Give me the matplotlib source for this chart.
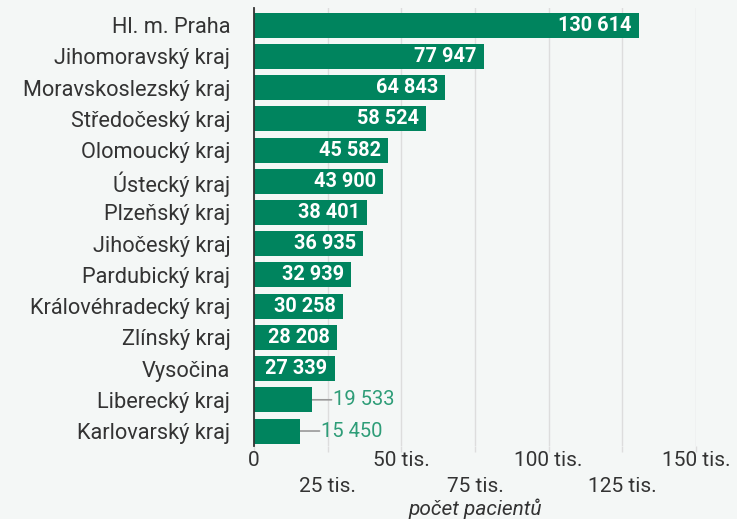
import matplotlib
matplotlib.use("Agg")
import matplotlib.pyplot as plt
from matplotlib.transforms import blended_transform_factory, offset_copy

plt.rcParams['font.family'] = ['Roboto', 'DejaVu Sans']

regions = ["Hl. m. Praha", "Jihomoravský kraj", "Moravskoslezský kraj", "Středočeský kraj",
           "Olomoucký kraj", "Ústecký kraj", "Plzeňský kraj", "Jihočeský kraj",
           "Pardubický kraj", "Královéhradecký kraj", "Zlínský kraj", "Vysočina",
           "Liberecký kraj", "Karlovarský kraj"]
patients = [130614, 77947, 64843, 58524, 45582, 43900, 38401, 36935,
            32939, 30258, 28208, 27339, 19533, 15450]
tick_values = [0, 25000, 50000, 75000, 100000, 125000, 150000]
tick_labels = ["0", "25 tis.", "50 tis.", "75 tis.", "100 tis.", "125 tis.", "150 tis."]
xlabel = "počet pacientů"

bg = "#f4f7f6"
bar_color = "#00845e"
out_color = "#2e9d78"
text_color = "#333333"

fig = plt.figure(figsize=(7.37, 5.19), dpi=100, facecolor=bg)
ax = fig.add_axes([254/737, 1-446/519, (696-254)/737, (446-8)/519])
ax.set_facecolor(bg)

y = list(range(len(regions)))
ax.barh(y, patients, height=0.8, color=bar_color, zorder=2)
ax.set_xlim(0, 150000)
ax.set_ylim(len(regions)-0.52, -0.55)

for s in ["top", "right", "bottom"]:
    ax.spines[s].set_visible(False)
ax.spines["left"].set_color("#333333")
ax.spines["left"].set_linewidth(1.3)
ax.spines["left"].set_zorder(3)

ax.set_xticks(tick_values)
ax.set_xticklabels([])
ax.tick_params(axis='x', length=4, color="#dddddd", width=1)
ax.grid(axis='x', color="#dddddd", linewidth=1, zorder=0)
ax.set_axisbelow(True)

ax.set_yticks(y)
ax.set_yticklabels(regions, fontsize=15.7, color=text_color)
ax.tick_params(axis='y', length=0, pad=17)

def fmt(v):
    return f"{v:,}".replace(",", " ")

for yi, v in zip(y, patients):
    if v > 25000:
        t = offset_copy(ax.transData, fig=fig, x=-7, y=0, units='dots')
        ax.text(v, yi, fmt(v), transform=t, ha='right', va='center',
                color='white', fontsize=14.3, fontweight='bold',
                fontstretch='normal', zorder=4)
    else:
        ax.annotate("", xy=(v, yi), xytext=(20, 0), textcoords='offset pixels',
                    arrowprops=dict(arrowstyle='-', color='#999999', lw=1.2,
                                    shrinkA=0, shrinkB=0), zorder=1)
        t = offset_copy(ax.transData, fig=fig, x=21, y=0, units='dots')
        ax.text(v, yi, fmt(v), transform=t, ha='left', va='center',
                color=out_color, fontsize=14.5, zorder=4)

tr = blended_transform_factory(ax.transData, fig.transFigure)
for i, (tv, tl) in enumerate(zip(tick_values, tick_labels)):
    ypos = 1 - (460 if i % 2 == 0 else 486) / 519
    ax.text(tv, ypos, tl, transform=tr, ha='center', va='center',
            fontsize=15, color=text_color)

fig.text(475 / 737, 1 - 509/519, xlabel, ha='center', va='center',
         fontsize=15, style='italic', color=text_color)

fig.savefig("out.png", dpi=100, facecolor=bg)
